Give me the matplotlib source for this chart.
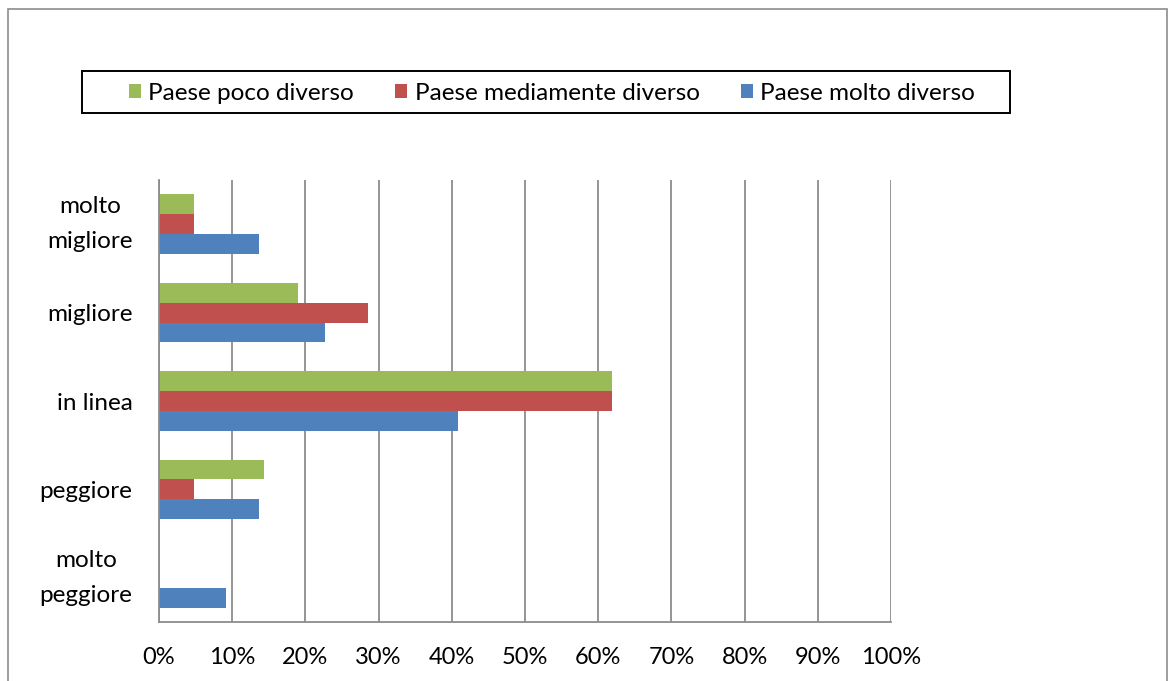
import numpy as np
import matplotlib.pyplot as plt
from matplotlib.patches import Rectangle

plt.rcParams['font.family'] = ['Lato', 'DejaVu Sans']

# categorie (dall'alto verso il basso)
categorie = ["molto\nmigliore", "migliore", "in linea", "peggiore", "molto\npeggiore"]
serie = ["Paese poco diverso", "Paese mediamente diverso", "Paese molto diverso"]

# percentuali per ogni serie
poco_diverso = [4.8, 19.0, 61.9, 14.3, 0.0]
mediamente_diverso = [4.8, 28.6, 61.9, 4.8, 0.0]
molto_diverso = [13.6, 22.7, 40.9, 13.6, 9.1]

colori = ["#9BBB59", "#C0504D", "#4F81BD"]
tick_x = [0, 10, 20, 30, 40, 50, 60, 70, 80, 90, 100]

W, H = 1169, 681
fig = plt.figure(figsize=(W / 100, H / 100), dpi=100)
ax = fig.add_axes([159 / W, 1 - 622 / H, (891 - 159) / W, (622 - 180) / H])

# bordo grigio attorno al grafico
fig.patches.append(Rectangle((8 / W, -0.02), (1167 - 8) / W, 1 - 9 / H + 0.02,
                             transform=fig.transFigure, fill=False,
                             edgecolor="#8c8c8c", linewidth=1.2))

y = np.arange(len(categorie))
h = 0.225
valori = [poco_diverso, mediamente_diverso, molto_diverso]
for i, (nome, vals, col) in enumerate(zip(serie, valori, colori)):
    ax.barh(y + (i - 1) * h, vals, height=h, color=col, label=nome)

ax.set_ylim(len(categorie) - 0.5, -0.5)
ax.set_xlim(0, 100)
ax.set_xticks(tick_x)
ax.set_xticklabels([f"{t}%" for t in tick_x])
ax.set_yticks(y)
ax.set_yticklabels(categorie, ma="center", linespacing=1.85)
for lab in ax.get_yticklabels():
    if "\n" in lab.get_text():
        lab.set_va("center")

ax.grid(axis="x", color="#8c8c8c", linewidth=1.3)
ax.set_axisbelow(True)
for s in ["top", "right"]:
    ax.spines[s].set_visible(False)
for s in ["left", "bottom"]:
    ax.spines[s].set_color("#8c8c8c")
    ax.spines[s].set_linewidth(1.3)
ax.tick_params(axis="x", length=0, pad=18, labelsize=17)
ax.tick_params(axis="y", length=0, pad=19, labelsize=17.5)

# legenda senza cornice, con riquadro nero disegnato a parte
fig.legend(loc="center", bbox_to_anchor=(552 / W, 1 - 93 / H),
           ncol=3, fontsize=17.5, frameon=False,
           handlelength=0.5, handleheight=0.5,
           handletextpad=0.3, columnspacing=1.7, borderpad=0, borderaxespad=0)
fig.patches.append(Rectangle((82 / W, 1 - 113 / H), (1010 - 82) / W, 42 / H,
                             transform=fig.transFigure, fill=False,
                             edgecolor="black", linewidth=1.4))

fig.savefig("out.png", dpi=100)
